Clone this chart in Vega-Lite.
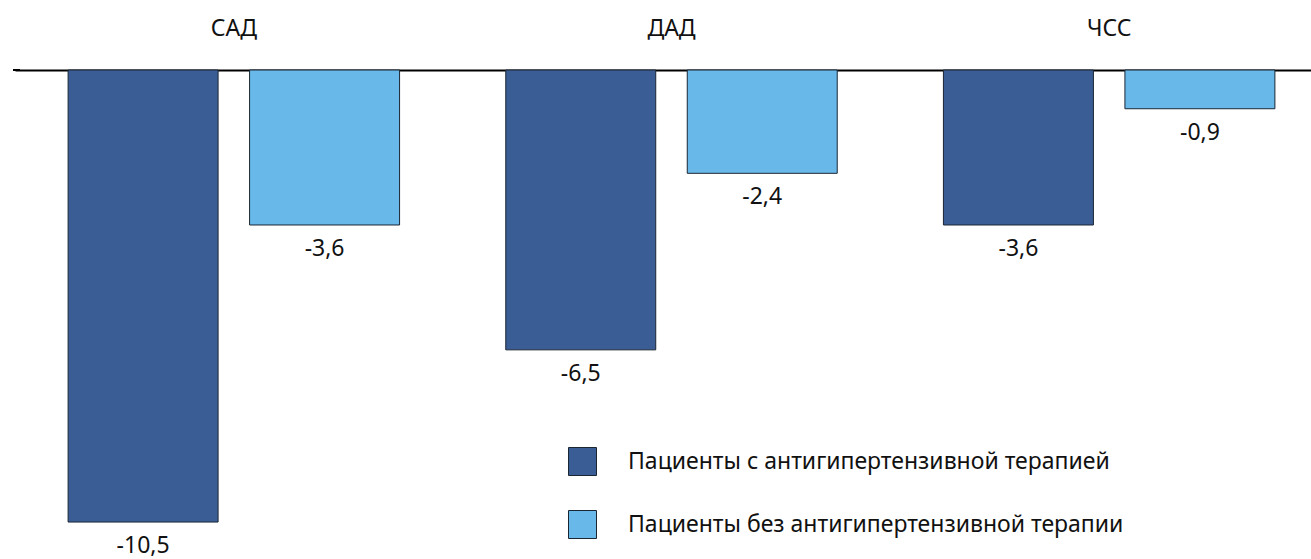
{
  "$schema": "https://vega.github.io/schema/vega-lite/v6.json",
  "width": 1311,
  "height": 489,
  "autosize": {"type": "none"},
  "padding": {"left": 0, "top": 70, "right": 0, "bottom": 0},
  "config": {"view": {"stroke": null}, "font": "Noto Sans"},
  "data": {
    "values": [
      {"param": "САД", "group": "Пациенты с антигипертензивной терапией", "value": -10.5, "label": "-10,5"},
      {"param": "САД", "group": "Пациенты без антигипертензивной терапии", "value": -3.6, "label": "-3,6"},
      {"param": "ДАД", "group": "Пациенты с антигипертензивной терапией", "value": -6.5, "label": "-6,5"},
      {"param": "ДАД", "group": "Пациенты без антигипертензивной терапии", "value": -2.4, "label": "-2,4"},
      {"param": "ЧСС", "group": "Пациенты с антигипертензивной терапией", "value": -3.6, "label": "-3,6"},
      {"param": "ЧСС", "group": "Пациенты без антигипертензивной терапии", "value": -0.9, "label": "-0,9"}
    ]
  },
  "encoding": {
    "x": {
      "field": "param",
      "type": "nominal",
      "sort": ["САД", "ДАД", "ЧСС"],
      "scale": {"range": [15, 1328], "paddingInner": 0, "paddingOuter": 0},
      "axis": {
        "orient": "top",
        "title": null,
        "domain": true,
        "domainColor": "#000000",
        "domainWidth": 2,
        "ticks": false,
        "labelAngle": 0,
        "labelFontSize": 23,
        "labelColor": "#111111",
        "labelPadding": 30
      }
    },
    "xOffset": {
      "field": "group",
      "sort": ["Пациенты с антигипертензивной терапией", "Пациенты без антигипертензивной терапии"],
      "scale": {"paddingInner": 0.1736, "paddingOuter": 0.2926}
    },
    "y": {
      "field": "value",
      "type": "quantitative",
      "scale": {"domain": [-11.358, 0], "nice": false, "zero": true},
      "axis": null
    }
  },
  "layer": [
    {
      "mark": {"type": "rule", "color": "#000000", "strokeWidth": 2},
      "encoding": {"x": {"value": 13}, "x2": {"value": 20}, "y": {"datum": 0}, "xOffset": null}
    },
    {
      "mark": {"type": "bar", "stroke": "#1b2633", "strokeWidth": 1},
      "encoding": {
        "color": {
          "field": "group",
          "type": "nominal",
          "sort": ["Пациенты с антигипертензивной терапией", "Пациенты без антигипертензивной терапии"],
          "scale": {"range": ["#3A5D96", "#68B8EA"]},
          "legend": {
            "orient": "none",
            "legendX": 568,
            "legendY": 377,
            "title": null,
            "symbolType": "square",
            "symbolSize": 784,
            "symbolStrokeColor": "#1b2633",
            "symbolStrokeWidth": 1,
            "labelFontSize": 23,
            "labelColor": "#111111",
            "labelOffset": 31,
            "rowPadding": 30,
            "labelLimit": 700
          }
        }
      }
    },
    {
      "mark": {"type": "text", "dy": 24, "fontSize": 23, "color": "#111111", "baseline": "middle"},
      "encoding": {"text": {"field": "label"}}
    }
  ]
}
